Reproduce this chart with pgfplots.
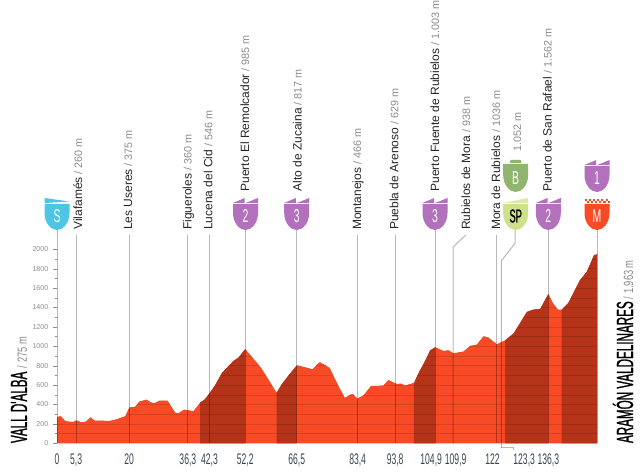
\documentclass[border=0pt]{standalone}
\usepackage{fontspec}
\usepackage{pgfplots}
\usepackage{pgfplotstable}
\pgfplotsset{compat=1.18}
\setmainfont{Liberation Sans}
\newfontfamily\cond[FakeStretch=0.56]{Liberation Sans}
\newfontfamily\condw[FakeStretch=0.7]{Liberation Sans}
\newfontfamily\condb[FakeStretch=0.5,FakeBold=1]{Liberation Sans}
\definecolor{prof}{HTML}{F84A25}
\definecolor{profd}{HTML}{B53319}
\definecolor{mpur}{HTML}{B270BD}
\definecolor{mblue}{HTML}{4DC5E3}
\definecolor{mgreen}{HTML}{8FB56F}
\definecolor{mlime}{HTML}{CFE08A}
\definecolor{tgrey}{HTML}{8C8C8C}
\definecolor{ldark}{HTML}{37474F}
\pgfplotstableread{
km ele
0 275
1.1 282
2.4 230
4.5 223
5.3 240
6.8 220
8 227
9.3 271
10.5 237
14.7 234
16.5 250
18.9 282
20 371
21.6 378
22.8 433
24.9 454
26 426
27 416
28.4 443
30.7 443
31.8 378
32.9 316
33.8 316
35.2 350
36.4 344
37.8 333
39.7 423
41 457
42.4 526
43.8 601
45.7 728
47.5 797
48.9 852
50.3 886
52.2 976
54.5 876
56.8 773
59.1 636
60.9 526
62.3 612
64.6 721
66.5 807
68.8 787
70.9 766
72.5 831
73 838
75.7 780
77.1 670
78.5 567
79.9 471
81.3 505
82.2 508
83.3 464
85 498
87 591
90.5 598
91.9 656
94.2 615
95.6 618
96.5 598
99 625
100.4 739
101.6 818
103.5 962
104.9 993
107.2 955
108.6 962
110 931
112.7 948
114.6 1007
116.4 1020
118.3 1106
119.7 1093
122 1024
124.3 1065
126.6 1134
130.3 1357
132.1 1381
134 1388
136.3 1546
137.7 1443
139 1381
140 1381
141.8 1450
145 1684
146.9 1770
148.9 1941
149.8 1952
}\profile
% body of every badge; origin = top centre, y upward
\newcommand{\bodypath}[1]{(-12.5,#1) -- (-12.5,-15) .. controls (-12.5,-25) and (-6,-32) .. (0,-32) .. controls (6,-32) and (12.5,-25) .. (12.5,-15) -- (12.5,#1) -- cycle}
\newcommand{\badgetxt}[2]{\node[text=#2,inner sep=0pt] at (0,-18) {\cond\fontsize{14}{14}\selectfont #1};}
\newcommand{\climb}[3]{\begin{scope}[shift={(#1,472-#2)}]
 \fill[mpur] \bodypath{-6};
 \fill[mpur] (-12.5,-5) -- (-0.8,0) -- (-0.8,-5) -- cycle;
 \fill[mpur] (0.3,-5) -- (12.5,0) -- (12.5,-5) -- cycle;
 \badgetxt{#3}{white}\end{scope}}
\newcommand{\lab}[4]{\node[rotate=90,anchor=base west,inner sep=0pt] at (#1,472-#2) {\fontsize{9}{9}\selectfont\textcolor{black!85}{#3}\fontsize{8.1}{9}\selectfont\textcolor{tgrey}{#4}};}
\pgfplotsset{vl/.style={black,opacity=0.28,line width=0.75pt,no marks,forget plot}}
\begin{document}
\begin{tikzpicture}[x=0.75pt,y=0.75pt]
\path[use as bounding box,fill=white] (0,0) rectangle (640,472);
\begin{axis}[
  at={(42.75pt,21.525pt)},anchor=south west,
  scale only axis,width=405pt,height=145.5pt,
  xmin=0,xmax=149.8,ymin=0,ymax=2000,clip=false,
  axis lines*=left,
  axis line style={draw=none},
  xtick={0,5.3,20,36.3,42.3,52.2,66.5,83.4,93.8,103.8,110.6,120.8,129.6,136.3,151.5},
  xticklabels={0,{5,3},20,{36,3},{42,3},{52,2},{66,5},{83,4},{93,8},{104,9},{109,9},122,{123,3},{136,3},{149,8 km}},
  x tick label style={font=\cond\fontsize{11.5}{12}\selectfont,text=ldark,yshift=-1.5pt},
  x tick style={draw=none},
  ytick={0,200,...,2000},minor y tick num=1,
  y tick style={draw=tgrey,line width=0.3pt},
  tick align=outside,
  major tick length=3pt,minor tick length=1.6pt,
  yticklabel style={font=\fontsize{5.3}{6}\selectfont,text=tgrey},
  /pgf/number format/assume math mode=true,
  /pgf/number format/1000 sep={},
]
\addplot[fill=prof,draw=none] table[x=km,y=ele] {\profile} \closedcycle;
\addplot[fill=profd,draw=none,restrict x to domain=39.69:52.21] table[x=km,y=ele] {\profile} \closedcycle;
\addplot[fill=profd,draw=none,restrict x to domain=60.89:66.51] table[x=km,y=ele] {\profile} \closedcycle;
\addplot[fill=profd,draw=none,restrict x to domain=98.99:104.91] table[x=km,y=ele] {\profile} \closedcycle;
\addplot[fill=profd,draw=none,restrict x to domain=124.29:136.31] table[x=km,y=ele] {\profile} \closedcycle;
\addplot[fill=profd,draw=none,restrict x to domain=139.99:149.81] table[x=km,y=ele] {\profile} \closedcycle;
\pgfplotsinvokeforeach{100,200,...,2000}{
  \addplot[black,opacity=0.13,line width=0.4pt,forget plot,no marks] coordinates {(0,#1)(149.8,#1)};
}
\addplot[fill=white,draw=none] table[x=km,y=ele] {\profile} -- (axis cs:149.8,2030) -- (axis cs:0,2030) -- cycle;
\addplot[vl] coordinates {(0,0)(0,2199)};
\addplot[vl] coordinates {(5.3,0)(5.3,2147)};
\addplot[vl] coordinates {(20,0)(20,2147)};
\addplot[vl] coordinates {(36.3,0)(36.3,2147)};
\addplot[vl] coordinates {(42.3,0)(42.3,2147)};
\addplot[vl] coordinates {(52.2,0)(52.2,2199)};
\addplot[vl] coordinates {(66.5,0)(66.5,2199)};
\addplot[vl] coordinates {(83.4,0)(83.4,2147)};
\addplot[vl] coordinates {(93.8,0)(93.8,2147)};
\addplot[vl] coordinates {(104.9,0)(104.9,2199)};
\addplot[vl] coordinates {(109.9,0)(109.9,2024)(113.4,2147)};
\addplot[vl] coordinates {(122,0)(122,2147)};
\addplot[vl] coordinates {(123.3,-45)(123.3,1882)(127.1,2065)(127.1,2199)};
\addplot[vl] coordinates {(123.3,-45)(126.5,-45)(126.5,-69)};
\addplot[vl] coordinates {(136.3,0)(136.3,2199)};
\addplot[vl] coordinates {(149.8,0)(149.8,2199)};
\end{axis}
% badges
\begin{scope}[shift={(57,472-198)}]
 \fill[mblue] \bodypath{-6};
 \fill[mblue] (-12.5,0) -- (12.5,-3.5) -- (-12.5,-5) -- cycle;
 \badgetxt{S}{white}\end{scope}
\climb{245.5}{198}{2}
\climb{296.7}{198}{3}
\climb{435}{198}{3}
\climb{548.3}{198}{2}
\climb{597}{160}{1}
\begin{scope}[shift={(515.7,472-198)}]
 \fill[mlime] \bodypath{-6};
 \fill[mlime!75!white] (-12.5,-5) -- (12.5,0) -- (12.5,-5) -- cycle;
 \node[inner sep=0pt] at (0,-18) {\condb\fontsize{14}{14}\selectfont SP};\end{scope}
\begin{scope}[shift={(515.7,472-160)}]
 \fill[mgreen] \bodypath{-4};
 \fill[mgreen] (-5,0) -- (5,0) -- (6,-3) -- (-6,-3) -- cycle;
 \badgetxt{B}{white}\end{scope}
\begin{scope}[shift={(597,472-198)}]
 \fill[prof] \bodypath{-6};
 \foreach \i in {0,...,5}{\fill[prof] (-12.5+\i*4.2,-3) rectangle ++(2.1,2.1);
   \fill[prof] (-10.4+\i*4.2,-5.3) rectangle ++(2.1,2.1);}
 \badgetxt{M}{white}\end{scope}
% waypoint labels
\lab{82}{230}{Vilafamés}{\ / 260 m}
\lab{132}{230}{Les Useres}{\ / 375 m}
\lab{191.7}{230}{Figueroles}{\ / 360 m}
\lab{212.3}{230}{Lucena del Cid}{\ / 546 m}
\lab{249}{191.7}{Puerto El Remolcador}{\ / 985 m}
\lab{301.7}{191.7}{Alto de Zucaina}{\ / 817 m}
\lab{361}{230}{Montanejos}{\ / 466 m}
\lab{398.3}{230}{Puebla de Arenoso}{\ / 629 m}
\lab{439}{191.7}{Puerto Fuente de Rubielos}{\ / 1.003 m}
\lab{470}{230}{Rubielos de Mora}{\ / 938 m}
\lab{500}{230}{Mora de Rubielos}{\ / 1036 m}
\lab{521}{152}{}{1.052 m}
\lab{551.7}{191.7}{Puerto de San Rafael}{\ / 1.562 m}
% start and finish
\node[rotate=90,anchor=base west,inner sep=0pt] at (27,472-443.3) {\condb\fontsize{17.5}{18}\selectfont VALL D'ALBA};
\node[rotate=90,anchor=base west,inner sep=0pt] at (27,472-371) {\condw\fontsize{10}{10}\selectfont\textcolor{tgrey}{\ / 275 m}};
\node[rotate=90,anchor=base west,inner sep=0pt] at (633,472-443.3) {\condb\fontsize{17.5}{18}\selectfont ARAMÓN VALDELINARES};
\node[rotate=90,anchor=base west,inner sep=0pt] at (633,472-302) {\condw\fontsize{10}{10}\selectfont\textcolor{tgrey}{\ / 1.963 m}};
\end{tikzpicture}
\end{document}
